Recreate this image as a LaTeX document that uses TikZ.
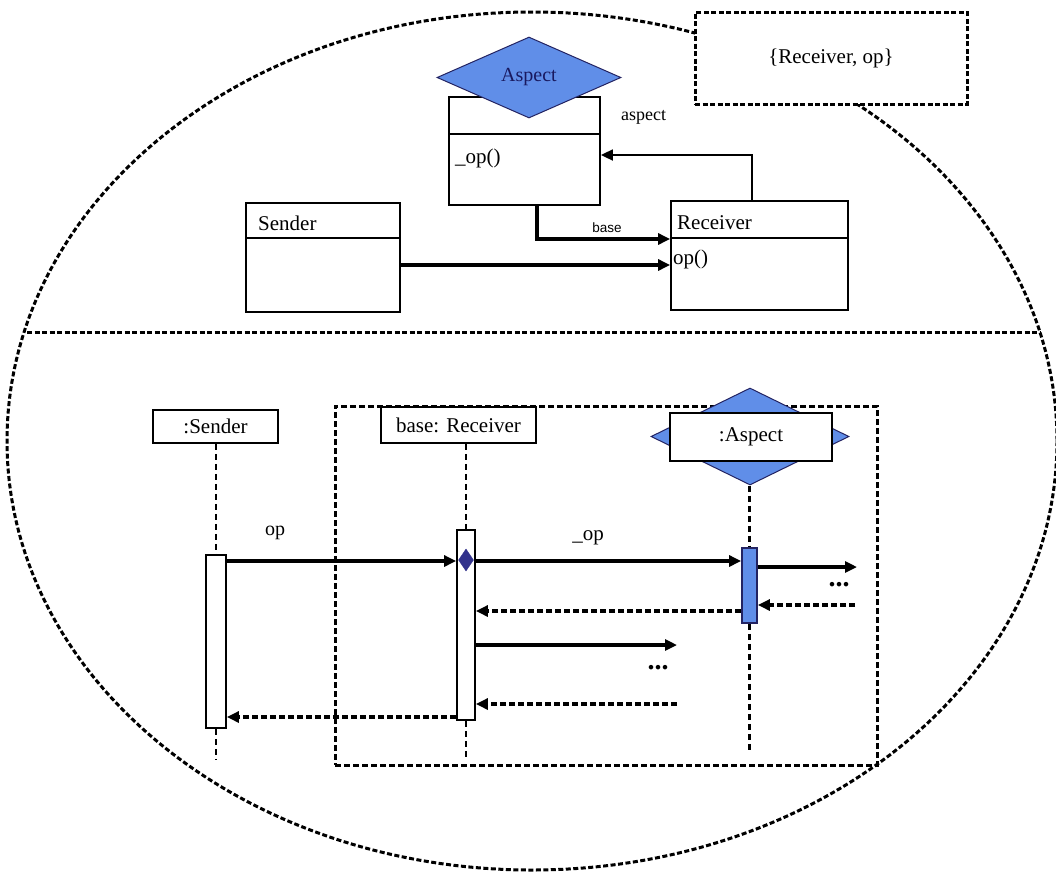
\documentclass[tikz,border=0pt]{standalone}
\usepackage{fontspec}
\setmainfont{Liberation Serif}
\newfontfamily\sansf{Liberation Sans}
\usetikzlibrary{shapes.geometric,arrows.meta,calc}
\definecolor{aspblue}{RGB}{96,142,232}
\definecolor{darkdia}{RGB}{50,50,140}
\definecolor{navytext}{RGB}{25,25,95}
\begin{document}
\begin{tikzpicture}[x=1pt,y=-1pt,
  cls/.style={draw,line width=1.8pt,rectangle,inner sep=0pt,fill=white},
  lbl/.style={font=\fontsize{21}{24}\selectfont,inner sep=0pt,anchor=west},
  tip/.style={-{Triangle[length=12pt,width=11pt]}},
  arr/.style={line width=3.4pt,tip},
  darr/.style={line width=3.4pt,dash pattern=on 6pt off 3pt,tip},
  ddash/.style={line width=3pt,dash pattern=on 5pt off 2.5pt},
  life/.style={line width=2.6pt,dash pattern=on 6pt off 4pt},
  dia/.style={draw=darkdia!70!black,line width=1pt,diamond,fill=aspblue,inner sep=0pt},
  act/.style={draw,line width=1.8pt,rectangle,inner sep=0pt,fill=white},
  dots/.style={font=\bfseries\fontsize{28}{28}\selectfont,inner sep=0pt}
]
\useasboundingbox (0,0) rectangle (1056,873);
% outer ellipse and separator
\draw[ddash] (532,441) ellipse [x radius=525, y radius=429];
\coordinate (sepL) at (27,332);
\coordinate (sepR) at (1040,332);
\draw[ddash] (sepL) -- (sepR);
% tag box
\node[draw,ddash,fill=white,minimum width=272,minimum height=92,inner sep=0pt,
      font=\fontsize{21}{24}\selectfont] (tag) at (831,58) {\{Receiver, op\}};

% ---------------- class diagram ----------------
\node[cls,minimum width=151,minimum height=108] (asp) at (524.5,151) {};
\draw[line width=1.8pt] (449,134) -- (600,134);
\node[lbl] (aspop) at (455,158) {\_op()};
\node[dia,minimum width=184,minimum height=81,shape aspect=2.27,text=navytext,
      font=\fontsize{20}{22}\selectfont] (aspdia) at (529,77.5) {Aspect};
\node[lbl,font=\fontsize{18}{20}\selectfont] (asplbl) at (621,117) {aspect};

\node[cls,minimum width=177,minimum height=109] (recv) at (759.5,255.5) {};
\draw[line width=1.8pt] (671,238) -- (848,238);
\node[lbl] (recvn) at (677,223) {Receiver};
\node[lbl] (recvop) at (673,259) {op()};

\node[cls,minimum width=154,minimum height=109] (send) at (323,257.5) {};
\draw[line width=1.8pt] (246,238) -- (400,238);
\node[lbl] (sendn) at (258,223) {Sender};

\draw[line width=1.8pt,tip] (recv.north -| 752,0) |- (asp.east |- 0,155);
\coordinate (baseS) at (537,205);
\draw[arr] (baseS) |- (recv.west |- 0,239);
\node[font=\sansf\fontsize{13.5}{15}\selectfont,inner sep=0pt] (baselbl) at (607,228) {base};
\draw[arr] (send.east |- 0,265) -- (recv.west |- 0,265);

% ---------------- sequence diagram ----------------
\node[draw,line width=3pt,dash pattern=on 6pt off 3pt,minimum width=542,minimum height=359,inner sep=0pt] (frame) at (606,585.5) {};

\node[cls,minimum width=125,minimum height=33,font=\fontsize{21}{24}\selectfont] (ssend) at (215.5,426.5) {:Sender};
\node[cls,minimum width=155,minimum height=36,font=\fontsize{21}{24}\selectfont] (srecv) at (458.5,425) {base: Receiver};
\node[dia,minimum width=198,minimum height=97,shape aspect=2.04] (sadia) at (750,436.5) {};
\node[cls,minimum width=162,minimum height=48,font=\fontsize{21}{24}\selectfont] (sasp) at (751,437) {:Aspect};

\node[act,minimum width=20,minimum height=173] (act1) at (216,641.5) {};
\node[act,minimum width=18,minimum height=190] (act2) at (466,625) {};
\node[act,fill=aspblue,draw=darkdia!70!black,minimum width=15,minimum height=75] (act3) at (749.5,585.5) {};

\coordinate (end1) at (216,760);
\coordinate (end2) at (466,760);
\coordinate (end3) at (749.5,752);
\draw[life] (ssend.south -| act1.north) -- (act1.north);
\draw[life] (act1.south) -- (end1);
\draw[life] (srecv.south -| act2.north) -- (act2.north);
\draw[life] (act2.south) -- (end2);
\draw[life] (sadia.south -| act3.north) -- (act3.north);
\draw[life] (act3.south) -- (end3);

% messages
\draw[arr] (act1.east |- 0,561) -- (act2.west |- 0,561);
\node[font=\fontsize{20}{22}\selectfont,inner sep=0pt] (oplbl) at (275,533) {op};
\node[diamond,fill=darkdia,draw=darkdia,inner sep=0pt,minimum width=15,minimum height=22] (mdia) at (466,560) {};
\draw[arr] (act2.east |- 0,561) -- (act3.west |- 0,561);
\node[font=\fontsize{21}{24}\selectfont,inner sep=0pt] (uoplbl) at (588,538) {\_op};

\coordinate (o1) at (857,567);
\draw[arr] (act3.east |- 0,567) -- (o1);
\node[dots] (dots1) at (839,585) {...};
\coordinate (o2) at (855,605);
\draw[darr] (o2) -- (act3.east |- 0,605);
\draw[darr] (act3.west |- 0,611) -- (act2.east |- 0,611);

\coordinate (o3) at (677,645);
\draw[arr] (act2.east |- 0,645) -- (o3);
\node[dots] (dots2) at (658,668) {...};
\coordinate (o4) at (677,704);
\draw[darr] (o4) -- (act2.east |- 0,704);
\draw[darr] (act2.west |- 0,717) -- (act1.east |- 0,717);
\end{tikzpicture}
\end{document}
